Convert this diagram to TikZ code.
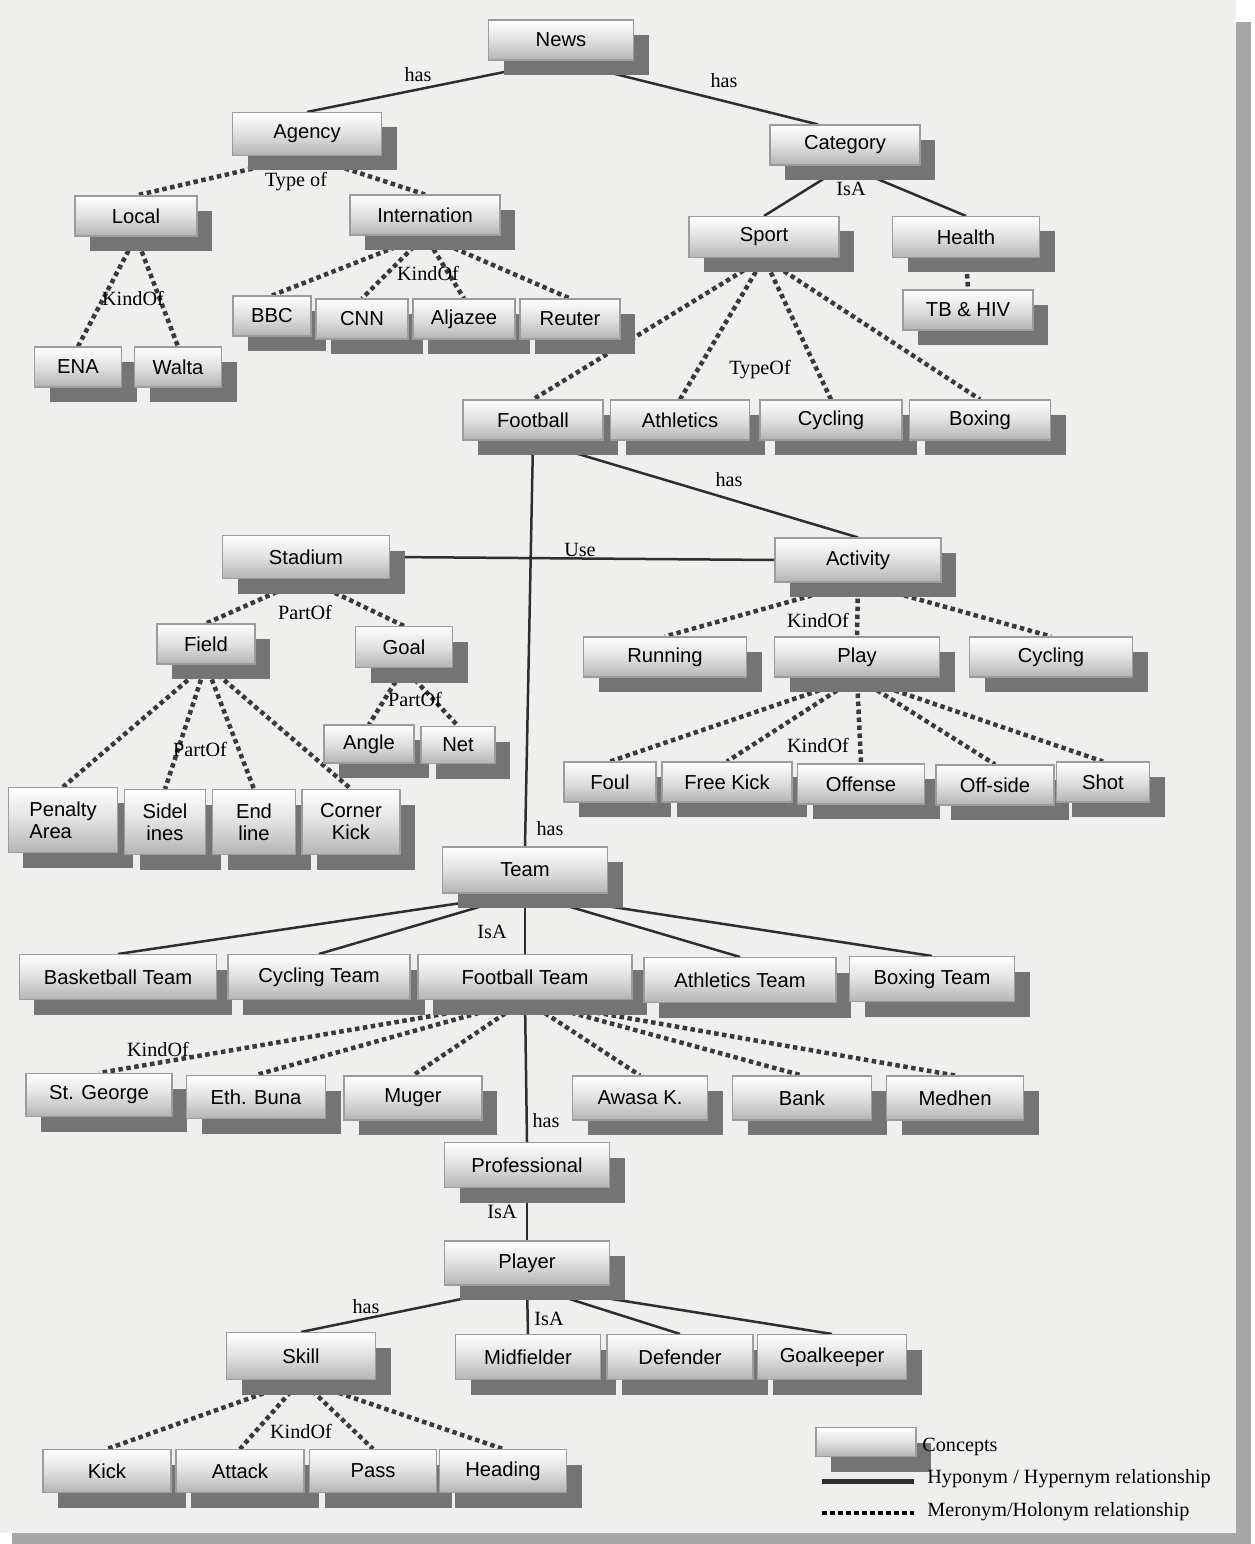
\documentclass[tikz,border=0pt]{standalone}
\usepackage{fontspec}
\setmainfont{Liberation Serif}
\setsansfont{Liberation Sans}
\usetikzlibrary{shadows,calc}
\definecolor{pagebg}{HTML}{EFEFED}
\definecolor{framegray}{HTML}{A7A7A7}
\definecolor{boxshadow}{HTML}{747474}
\definecolor{boxborder}{HTML}{9C9C9C}
\definecolor{boxmid}{HTML}{E0E0E0}
\definecolor{boxlow}{HTML}{B4B4B4}
\definecolor{linecol}{HTML}{2E2E2E}
\definecolor{dotcol}{HTML}{3A3A3A}
\pgfdeclarelayer{pagelayer}
\pgfdeclarelayer{edgelayer}
\pgfsetlayers{pagelayer,edgelayer,main}

\begin{document}
\begin{tikzpicture}[x=0.2mm, y=-0.2mm,
   concept/.style={draw=boxborder, line width=0.6pt, top color=white, bottom color=boxlow,
     middle color=boxmid, inner sep=0pt, minimum height=8mm, align=center,
     font=\sffamily\fontsize{11.5}{12.5}\selectfont,
     drop shadow={shadow xshift=3mm, shadow yshift=-3mm, fill=boxshadow, opacity=1}},
   rel/.style={inner sep=0pt, font=\fontsize{11.5}{12}\selectfont},
   hyper/.style={draw=linecol, line width=0.5mm},
   mero/.style={draw=dotcol, line width=0.9mm, dash pattern=on 0.9mm off 0.7mm}]
  \useasboundingbox (0,0) rectangle (1255,1544);
  \begin{pgfonlayer}{pagelayer}
    \fill[white] (0,0) rectangle (1255,1544);
    \fill[pagebg] (0,0) rectangle (1236,1533);
    \fill[framegray] (1236,22) rectangle (1251,1544);
    \fill[framegray] (12,1533) rectangle (1251,1544);
  \end{pgfonlayer}
  % top levels
  \node[concept, minimum width=29mm] (news) at (561,40) {News};
  \node[concept, minimum width=29.8mm, minimum height=8.6mm] (agency) at (307,134) {Agency};
  \node[concept, minimum width=30mm] (category) at (845,145) {Category};
  \node[concept, minimum width=24.4mm] (local) at (136,216) {Local};
  \node[concept, minimum width=30mm] (internation) at (425,215) {Internation};
  \node[concept, minimum width=30mm, minimum height=8.2mm] (sport) at (764,237) {Sport};
  \node[concept, minimum width=29.4mm, minimum height=8.2mm] (health) at (966,237) {Health};
  \node[concept, minimum width=26mm] (tbhiv) at (968,310) {TB \& HIV};
  \node[concept, minimum width=15.6mm] (bbc) at (272,316) {BBC};
  \node[concept, minimum width=18.4mm] (cnn) at (362,319) {CNN};
  \node[concept, minimum width=20.4mm] (aljazee) at (464,319) {Aljazee};
  \node[concept, minimum width=20mm] (reuter) at (570,319) {Reuter};
  \node[concept, minimum width=17.4mm] (ena) at (78,367) {ENA};
  \node[concept, minimum width=17.4mm] (walta) at (178,367) {Walta};
  \node[concept, minimum width=28mm] (football) at (533,420) {Football};
  \node[concept, minimum width=27.8mm] (athletics) at (680,420) {Athletics};
  \node[concept, minimum width=28.4mm] (cyclingsp) at (831,420) {Cycling};
  \node[concept, minimum width=28.2mm] (boxing) at (980,420) {Boxing};
  % stadium and activity
  \node[concept, minimum width=33.4mm, minimum height=8.6mm] (stadium) at (306,557) {Stadium};
  \node[concept, minimum width=33.2mm, minimum height=8.8mm] (activity) at (858,560) {Activity};
  \node[concept, minimum width=19.6mm] (field) at (206,644) {Field};
  \node[concept, minimum width=19.4mm, minimum height=8.2mm] (goal) at (404,647) {Goal};
  \node[concept, minimum width=32.6mm] (running) at (665,657) {Running};
  \node[concept, minimum width=33mm] (play) at (857,657) {Play};
  \node[concept, minimum width=32.6mm] (cyclingact) at (1051,657) {Cycling};
  \node[concept, minimum width=18mm, minimum height=7.6mm] (angle) at (369,744) {Angle};
  \node[concept, minimum width=14.8mm, minimum height=7.4mm] (net) at (458,745) {Net};
  \node[concept, minimum width=18.4mm] (foul) at (610,782) {Foul};
  \node[concept, minimum width=26mm] (freekick) at (727,782) {Free Kick};
  \node[concept, minimum width=25.4mm] (offense) at (861,784) {Offense};
  \node[concept, minimum width=23.6mm] (offside) at (995,785) {Off-side};
  \node[concept, minimum width=18.6mm] (shot) at (1103,782) {Shot};
  \node[concept, minimum width=21.8mm, minimum height=13mm, align=left] (penalty) at (63,820) {Penalty\\Area};
  \node[concept, minimum width=16.2mm, minimum height=13mm] (sidel) at (165,822) {Sidel\\ines};
  \node[concept, minimum width=16.6mm, minimum height=13mm] (endline) at (254,822) {End\\line};
  \node[concept, minimum width=19.6mm, minimum height=13mm] (corner) at (351,822) {Corner\\Kick};
  % teams
  \node[concept, minimum width=33mm, minimum height=9.2mm] (team) at (525,870) {Team};
  \node[concept, minimum width=39.4mm, minimum height=9mm] (basketball) at (118,977) {Basketball Team};
  \node[concept, minimum width=36.4mm, minimum height=9mm] (cyclingteam) at (319,977) {Cycling Team};
  \node[concept, minimum width=42.8mm, minimum height=9mm] (footballteam) at (525,977) {Football Team};
  \node[concept, minimum width=38.4mm, minimum height=9mm] (athleticsteam) at (740,980) {Athletics Team};
  \node[concept, minimum width=33mm, minimum height=9mm] (boxingteam) at (932,979) {Boxing Team};
  \node[concept, minimum width=29.2mm, minimum height=8.6mm] (stgeorge) at (99,1095) {St. George};
  \node[concept, minimum width=27.8mm, minimum height=8.6mm] (ethbuna) at (256,1097) {Eth. Buna};
  \node[concept, minimum width=27.6mm, minimum height=8.8mm] (muger) at (413,1098) {Muger};
  \node[concept, minimum width=27mm, minimum height=8.8mm] (awasa) at (640,1098) {Awasa K.};
  \node[concept, minimum width=27.8mm, minimum height=8.8mm] (bank) at (802,1098) {Bank};
  \node[concept, minimum width=27.4mm, minimum height=8.8mm] (medhen) at (955,1098) {Medhen};
  % players
  \node[concept, minimum width=33mm, minimum height=9mm] (professional) at (527,1165) {Professional};
  \node[concept, minimum width=33mm, minimum height=8.8mm] (player) at (527,1263) {Player};
  \node[concept, minimum width=29.8mm, minimum height=9.4mm] (skill) at (301,1356) {Skill};
  \node[concept, minimum width=29mm, minimum height=9mm] (midfielder) at (528,1357) {Midfielder};
  \node[concept, minimum width=29.2mm, minimum height=9mm] (defender) at (680,1357) {Defender};
  \node[concept, minimum width=29.8mm, minimum height=9mm] (goalkeeper) at (832,1357) {Goalkeeper};
  \node[concept, minimum width=25.6mm, minimum height=8.6mm] (kick) at (107,1471) {Kick};
  \node[concept, minimum width=25.6mm, minimum height=8.6mm] (attack) at (240,1471) {Attack};
  \node[concept, minimum width=25.4mm, minimum height=8.6mm] (pass) at (373,1471) {Pass};
  \node[concept, minimum width=25.4mm, minimum height=8.6mm] (heading) at (503,1471) {Heading};
  % relation labels
  \node[rel] (lnewsa) at (418,75) {has};
  \node[rel] (lnewsb) at (724,81) {has};
  \node[rel] (lagency) at (296,182) {Type of};
  \node[rel] (lcategory) at (851,189) {IsA};
  \node[rel] (llocal) at (133,298) {KindOf};
  \node[rel] (linter) at (428,273) {KindOf};
  \node[rel] (lsport) at (760,370) {TypeOf};
  \node[rel] (lfootact) at (729,480) {has};
  \node[rel] (luse) at (580,550) {Use};
  \node[rel] (lstadium) at (305,612) {PartOf};
  \node[rel] (lfield) at (200,749) {PartOf};
  \node[rel] (lgoal) at (415,699) {PartOf};
  \node[rel] (lactivity) at (818,620) {KindOf};
  \node[rel] (lplay) at (818,745) {KindOf};
  \node[rel] (lfootteam) at (550,829) {has};
  \node[rel] (lteam) at (492,932) {IsA};
  \node[rel] (lclubs) at (158,1049) {KindOf};
  \node[rel] (lprof) at (546,1121) {has};
  \node[rel] (lplayer) at (502,1212) {IsA};
  \node[rel] (lskill) at (366,1307) {has};
  \node[rel] (lroles) at (549,1319) {IsA};
  \node[rel] (lkinds) at (301,1431) {KindOf};
  % legend
  \node[concept, minimum width=20mm, minimum height=5.8mm] (legbox) at (866,1442) {};
  \node[rel, anchor=west] (legconcept) at (922,1447) {Concepts};
  \coordinate (hypa) at (822,1481);
  \coordinate (hypb) at (914,1481);
  \node[rel, anchor=west] (leghyper) at (927,1479) {Hyponym / Hypernym relationship};
  \coordinate (meroa) at (822,1513);
  \coordinate (merob) at (914,1513);
  \node[rel, anchor=west] (legmero) at (927,1512) {Meronym/Holonym relationship};
  \begin{pgfonlayer}{edgelayer}
    % hyponym / hypernym links
    \path[hyper] (news.south) edge (agency.north) edge ([xshift=-5.4mm]category.north);
    \path[hyper] (category.south) edge (sport.north) edge (health.north);
    \path[hyper] (football.south) edge (team.north) edge (activity.north);
    \path[hyper] (stadium.east) edge (activity.west);
    \path[hyper] (team.south) edge (basketball.north) edge (cyclingteam.north)
      edge (footballteam.north) edge (athleticsteam.north) edge (boxingteam.north);
    \path[hyper] (footballteam.south) edge (professional.north);
    \path[hyper] (professional.south) edge (player.north);
    \path[hyper] (player.south) edge (skill.north) edge (midfielder.north)
      edge (defender.north) edge (goalkeeper.north);
    % meronym / holonym links
    \path[mero] (agency.south) edge (local.north) edge (internation.north);
    \path[mero] (local.south) edge (ena.north) edge (walta.north);
    \path[mero] (internation.south) edge (bbc.north) edge (cnn.north) edge (aljazee.north) edge (reuter.north);
    \path[mero] (sport.south) edge (football.north) edge (athletics.north) edge (cyclingsp.north) edge (boxing.north);
    \path[mero] (health.south) edge (tbhiv.north);
    \path[mero] (stadium.south) edge (field.north) edge (goal.north);
    \path[mero] (field.south) edge (penalty.north) edge (sidel.north) edge (endline.north) edge (corner.north);
    \path[mero] (goal.south) edge (angle.north) edge (net.north);
    \path[mero] (activity.south) edge (running.north) edge (play.north) edge (cyclingact.north);
    \path[mero] (play.south) edge (foul.north) edge (freekick.north) edge (offense.north)
      edge (offside.north) edge (shot.north);
    \path[mero] (footballteam.south) edge (stgeorge.north) edge (ethbuna.north) edge (muger.north)
      edge (awasa.north) edge (bank.north) edge (medhen.north);
    \path[mero] (skill.south) edge (kick.north) edge (attack.north) edge (pass.north) edge (heading.north);
  \end{pgfonlayer}
  \draw[hyper, line width=1mm] (hypa) -- (hypb);
  \draw[mero, draw=black] (meroa) -- (merob);
\end{tikzpicture}
\end{document}
